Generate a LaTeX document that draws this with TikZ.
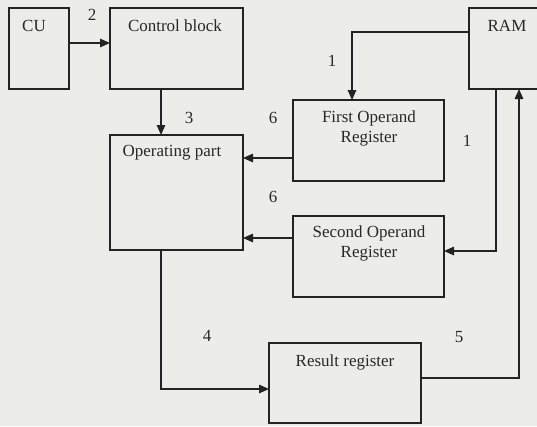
\documentclass[tikz,border=0pt]{standalone}
\usepackage{fontspec}
\setmainfont{Liberation Serif}
\usetikzlibrary{arrows.meta,calc}
\definecolor{paper}{RGB}{236,236,233}
\definecolor{ink}{RGB}{35,35,35}
\definecolor{txt}{RGB}{40,40,40}
\begin{document}
\begin{tikzpicture}[x={(1pt,0)},y={(0,-1pt)},
  box/.style={draw=ink,line width=2.6pt,inner sep=0pt,outer sep=0pt,rectangle},
  lbl/.style={text=txt,inner sep=0pt,font=\fontsize{17}{20}\selectfont,align=center},
  num/.style={text=txt,inner sep=0pt,font=\fontsize{17}{20}\selectfont},
  arr/.style={draw=ink,line width=1.5pt,-{Triangle[length=10pt,width=8.5pt]}},
  wire/.style={draw=ink,line width=1.5pt}]
\useasboundingbox (0,0) rectangle (537,426);
\clip (0,0) rectangle (537,426);
\fill[paper] (0,0) rectangle (537,426);

% blocks
\node[box,minimum width=60pt,minimum height=81pt] (cu) at (39,48.5) {};
\node[box,minimum width=133pt,minimum height=81pt] (cb) at (176.5,48.5) {};
\node[box,minimum width=133pt,minimum height=115pt] (op) at (176.5,192.5) {};
\node[box,minimum width=80pt,minimum height=81pt] (ram) at (509,48.5) {};
\node[box,minimum width=151pt,minimum height=81pt] (fo) at (368.5,140.5) {};
\node[box,minimum width=151pt,minimum height=81pt] (so) at (368.5,256.5) {};
\node[box,minimum width=152pt,minimum height=80pt] (rr) at (345,383) {};

% block captions
\node[lbl] (cut) at (34,26) {CU};
\node[lbl] (cbt) at (175,26) {Control block};
\node[lbl] (opt) at (172,153) {Operating part};
\node[lbl] (ramt) at (507,26) {RAM};
\node[lbl] (fot) at (369,128.5) {First Operand\\Register};
\node[lbl] (sot) at (369,243) {Second Operand\\Register};
\node[lbl] (rrt) at (345,362) {Result register};

% connectors
\draw[arr] (cu.east |- 0,43) -- (cb.west |- 0,43);
\draw[arr] (cb.south -| 161,0) -- (op.north -| 161,0);
\draw[arr] (ram.west |- 0,32) -| (fo.north -| 352,0);
\draw[arr] (fo.west |- 0,158) -- (op.east |- 0,158);
\draw[arr] (so.west |- 0,238) -- (op.east |- 0,238);
\draw[arr] (ram.south -| 496,0) |- (so.east |- 0,251);
\draw[arr] (op.south -| 161,0) |- (rr.west |- 0,389);
\draw[arr] (rr.east |- 0,378) -| (ram.south -| 519,0);

% step numbers
\node[num] (n2) at (92,15) {2};
\node[num] (n3) at (189,118) {3};
\node[num] (n1a) at (332,61) {1};
\node[num] (n6a) at (273,118) {6};
\node[num] (n6b) at (273,197) {6};
\node[num] (n1b) at (467,141) {1};
\node[num] (n4) at (207,336) {4};
\node[num] (n5) at (459,337) {5};
\end{tikzpicture}
\end{document}
